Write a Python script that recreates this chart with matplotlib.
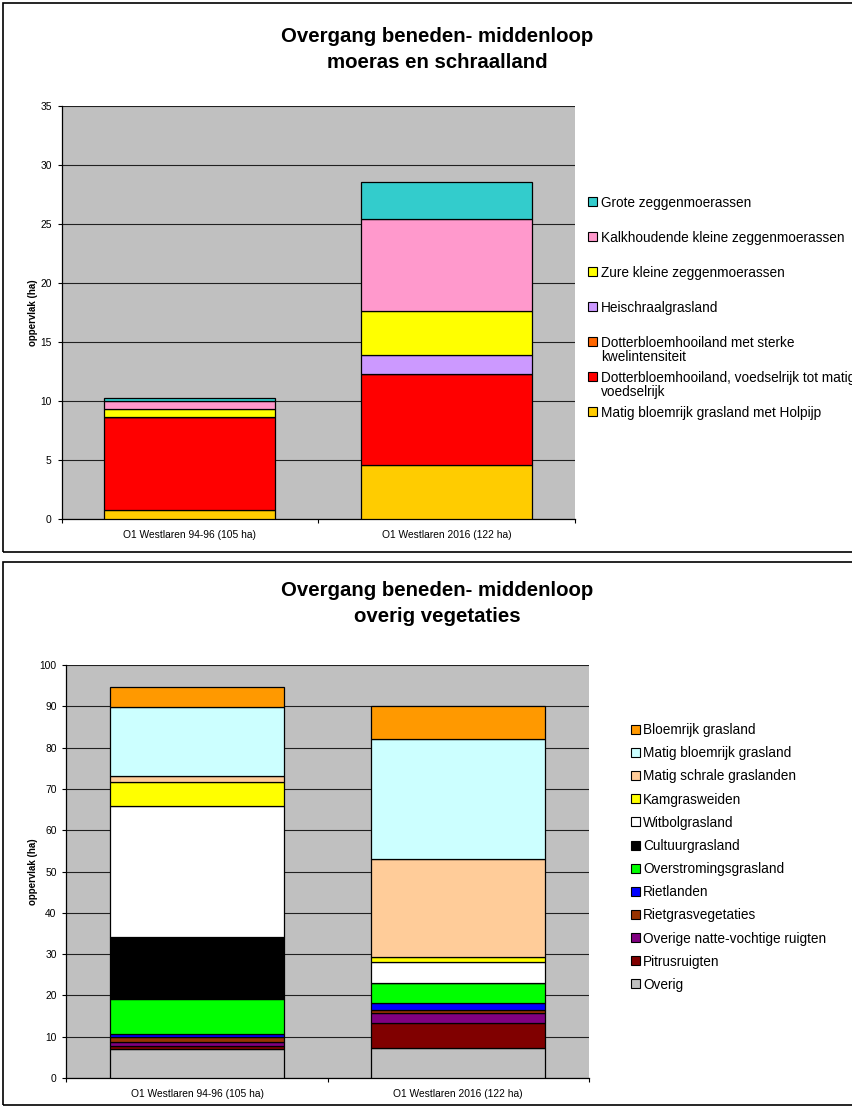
import matplotlib.pyplot as plt
from matplotlib.patches import Rectangle

W, H = 852, 1109  # output size in pixels (dpi 100)

plt.rcParams['font.family'] = ['Liberation Sans', 'DejaVu Sans']

categories = ['O1 Westlaren 94-96 (105 ha)', 'O1 Westlaren 2016 (122 ha)']

# moeras en schraalland, stacked from the bottom up (ha)
moeras_labels = [
    'Matig bloemrijk grasland met Holpijp',
    'Dotterbloemhooiland, voedselrijk tot matig\nvoedselrijk',
    'Dotterbloemhooiland met sterke\nkwelintensiteit',
    'Heischraalgrasland',
    'Zure kleine zeggenmoerassen',
    'Kalkhoudende kleine zeggenmoerassen',
    'Grote zeggenmoerassen',
]
moeras_colors = ['#FFCC00', '#FF0000', '#FF6600', '#CC99FF', '#FFFF00', '#FF99CC', '#33CCCC']
holpijp = [0.8, 4.6]
dotter_voedselrijk = [7.9, 7.7]
dotter_kwel = [0.0, 0.0]
heischraal = [0.0, 1.6]
zure_zeggen = [0.6, 3.7]
kalk_zeggen = [0.7, 7.8]
grote_zeggen = [0.3, 3.2]
moeras_values = [holpijp, dotter_voedselrijk, dotter_kwel, heischraal,
                 zure_zeggen, kalk_zeggen, grote_zeggen]

# overige vegetaties, stacked from the bottom up (ha)
overig_labels = [
    'Overig', 'Pitrusruigten', 'Overige natte-vochtige ruigten', 'Rietgrasvegetaties',
    'Rietlanden', 'Overstromingsgrasland', 'Cultuurgrasland', 'Witbolgrasland',
    'Kamgrasweiden', 'Matig schrale graslanden', 'Matig bloemrijk grasland',
    'Bloemrijk grasland',
]
overig_colors = ['#C0C0C0', '#800000', '#800080', '#993300', '#0000FF', '#00FF00',
                 '#000000', '#FFFFFF', '#FFFF00', '#FFCC99', '#CCFFFF', '#FF9900']
overig = [7.1, 7.2]
pitrus = [0.7, 6.0]
natte_ruigten = [1.0, 2.5]
rietgras = [1.1, 0.8]
rietlanden = [0.8, 1.6]
overstroming = [8.5, 4.9]
cultuur = [14.9, 0.0]
witbol = [31.8, 5.2]
kamgras = [5.8, 1.0]
matig_schraal = [1.4, 23.9]
matig_bloemrijk = [16.7, 29.0]
bloemrijk = [4.8, 8.0]
overig_values = [overig, pitrus, natte_ruigten, rietgras, rietlanden, overstroming,
                 cultuur, witbol, kamgras, matig_schraal, matig_bloemrijk, bloemrijk]


def fx(x):
    return x / W


def fy(y):
    return 1 - y / H


def chart_frame(fig, top, bottom):
    # border only; runs off the right edge like the exported sheet
    fig.patches.append(Rectangle((fx(3), fy(bottom)), fx(900), (bottom - top) / H,
                                 transform=fig.transFigure, facecolor='none',
                                 edgecolor='black', linewidth=1.2, zorder=5))


def title(fig, lines, xc, y0, pitch=25):
    for i, line in enumerate(lines):
        fig.text(fx(xc), fy(y0 + i * pitch), line, ha='center', va='center',
                 fontsize=14.7, fontweight='bold')


def stacked_bars(fig, box, values, colors, ymax, ystep):
    x0, y0, x1, y1 = box
    ax = fig.add_axes([fx(x0), fy(y1), (x1 - x0) / W, (y1 - y0) / H])
    ax.set_facecolor('#C0C0C0')
    pos = list(range(len(categories)))
    base = [0.0] * len(categories)
    for vals, col in zip(values, colors):
        ax.bar(pos, vals, width=0.667, bottom=base, color=col,
               edgecolor='black', linewidth=0.9, zorder=3)
        base = [b + v for b, v in zip(base, vals)]
    ax.set_xlim(-0.5, len(categories) - 0.5)
    ax.set_ylim(0, ymax)
    ax.set_yticks(range(0, ymax + 1, ystep))
    ax.yaxis.grid(True, color='#202020', linewidth=0.8, zorder=1)
    ax.set_axisbelow(True)
    ax.set_xticks(pos)
    ax.set_xticklabels(categories)
    ax.set_xticks([p - 0.5 for p in pos] + [pos[-1] + 0.5], minor=True)
    ax.tick_params(axis='x', which='major', length=0, pad=8, labelsize=7.4)
    ax.tick_params(axis='x', which='minor', length=3, width=0.8, direction='out')
    ax.tick_params(axis='y', length=3, width=0.8, direction='out', pad=4, labelsize=7.4)
    for side in ('top', 'right'):
        ax.spines[side].set_visible(False)
    for side in ('left', 'bottom'):
        ax.spines[side].set_linewidth(0.9)
    fig.text(fx(33), fy((y0 + y1) / 2), 'oppervlak (ha)', rotation=90,
             ha='center', va='center', fontsize=7, fontweight='bold')
    return ax


def legend(fig, labels, colors, x_mark, x_text, y_first, pitch, size=9, fs=9.8):
    line_px = 14.4
    entries = list(zip(labels, colors))[::-1]
    for i, (lab, col) in enumerate(entries):
        yc = y_first + i * pitch
        fig.patches.append(Rectangle((fx(x_mark), fy(yc + size / 2)), size / W, size / H,
                                     transform=fig.transFigure, facecolor=col,
                                     edgecolor='black', linewidth=0.8, zorder=3))
        for j, part in enumerate(lab.split('\n')):
            fig.text(fx(x_text), fy(yc + j * line_px + 4.9), part,
                     ha='left', va='baseline', fontsize=fs)


fig = plt.figure(figsize=(W / 100, H / 100), dpi=100)

# upper chart: moeras en schraalland
chart_frame(fig, 3, 552)
title(fig, ['Overgang beneden- middenloop', 'moeras en schraalland'], 437, 37)
stacked_bars(fig, (61.5, 106, 574.7, 519.3), moeras_values, moeras_colors, 35, 5)
legend(fig, moeras_labels, moeras_colors, 587.5, 601, 201.7, 35)

# lower chart: overig vegetaties
chart_frame(fig, 562, 1105)
title(fig, ['Overgang beneden- middenloop', 'overig vegetaties'], 437, 591)
stacked_bars(fig, (66.4, 665, 588.9, 1078), overig_values, overig_colors, 100, 10)
legend(fig, overig_labels, overig_colors, 630.5, 643, 729.3, 23.15)

fig.savefig('out.png', dpi=100)
